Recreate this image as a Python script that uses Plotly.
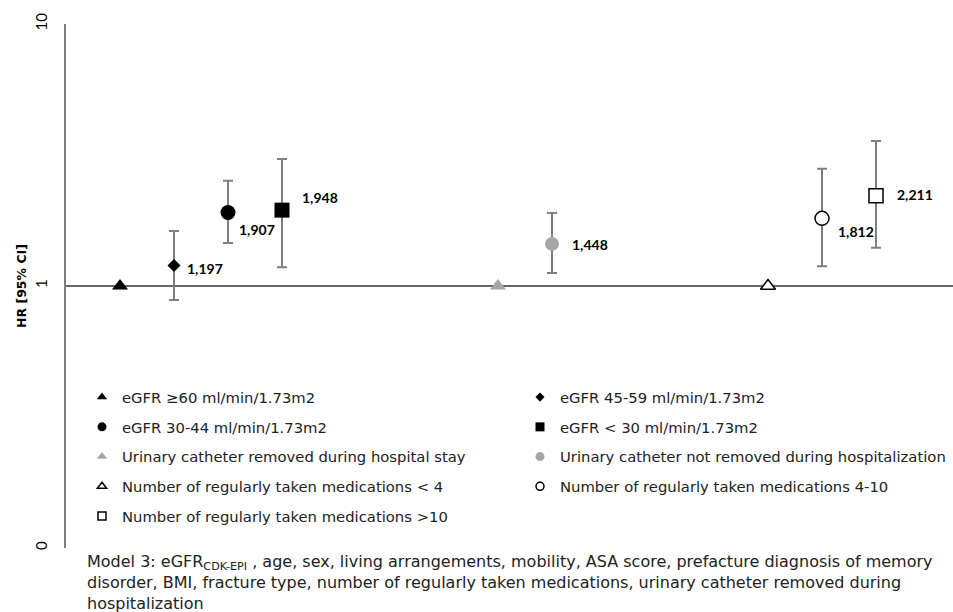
import numpy as np
import plotly.graph_objects as go

# ---- data ----
names = [
    "eGFR ≥60 ml/min/1.73m2",
    "eGFR 45-59 ml/min/1.73m2",
    "eGFR 30-44 ml/min/1.73m2",
    "eGFR < 30 ml/min/1.73m2",
    "Urinary catheter removed during hospital stay",
    "Urinary catheter not removed during hospitalization",
    "Number of regularly taken medications < 4",
    "Number of regularly taken medications 4-10",
    "Number of regularly taken medications >10",
]
slot = [1, 2, 3, 4, 8, 9, 13, 14, 15]
hr = [1.0, 1.197, 1.907, 1.948, 1.0, 1.448, 1.0, 1.812, 2.211]
ci_low = [None, 0.885, 1.46, 1.18, None, 1.12, None, 1.19, 1.40]
ci_high = [None, 1.62, 2.52, 3.05, None, 1.90, None, 2.80, 3.58]
is_reference = [True, False, False, False, True, False, True, False, False]

y_tickvals = [0.1, 1, 10]
y_ticktext = ["0", "1", "10"]
y_title = "HR [95% CI]"
footnote = ("Model 3: eGFR<sub>CDK-EPI</sub> , age, sex, living arrangements, mobility, ASA score, "
            "prefacture diagnosis of memory<br>disorder, BMI, fracture type, number of regularly taken "
            "medications, urinary catheter removed during<br>hospitalization")

# ---- styles ----
symbols = ["triangle-up", "diamond", "circle", "square", "triangle-up", "circle",
           "triangle-up-open", "circle-open", "square-open"]
fills = ["#000000", "#000000", "#000000", "#000000", "#a6a6a6", "#a6a6a6", "white", "white", "white"]
sizes = [14, 10, 15, 15, 14, 14, 13, 14, 14]
legend_sizes = [9, 7, 9, 9, 9, 9, 8, 8, 8]
legend_of = ["legend", "legend2", "legend", "legend2", "legend", "legend2", "legend", "legend2", "legend"]
label_shift = [None, (11, -3), (9, -17), (18, 13), None, (18, -1), None, (14, -13), (19, 1)]

FONT = "Lato, 'Open Sans', sans-serif"
TEXT_FONT = "'DejaVu Sans', Verdana, sans-serif"
fig = go.Figure()

def marker_style(i, size):
    sym = symbols[i].replace("-open", "")
    hollow = fills[i] == "white"
    return dict(symbol=sym, size=size, color=fills[i],
                line=dict(color="#000000" if hollow else fills[i], width=1.5 if hollow else 0))

for i in range(len(names)):
    err = None
    if not is_reference[i]:
        err = dict(type="data", symmetric=False,
                   array=[ci_high[i] - hr[i]], arrayminus=[hr[i] - ci_low[i]],
                   color="#7f7f7f", thickness=2, width=5)
    fig.add_trace(go.Scatter(
        x=[slot[i]], y=[hr[i]], mode="markers", name=names[i], showlegend=False,
        error_y=err, marker=marker_style(i, sizes[i]),
    ))

# legend entries (small symbols, as in the reference)
for i in range(len(names)):
    fig.add_trace(go.Scatter(
        x=[None], y=[None], mode="markers", name=names[i],
        legend=legend_of[i], legendgroup=f"g{i}", showlegend=True,
        marker=marker_style(i, legend_sizes[i]),
    ))

# horizontal reference line at HR = 1
fig.add_shape(type="line", xref="paper", x0=0, x1=1, yref="y", y0=1, y1=1,
              line=dict(color="#666666", width=2), layer="below")

# value labels
for i in range(len(names)):
    if label_shift[i] is None:
        continue
    fig.add_annotation(x=slot[i], y=np.log10(hr[i]), text=f"{hr[i]:.3f}".replace(".", ","),
                       showarrow=False, xanchor="left", yanchor="middle",
                       xshift=label_shift[i][0], yshift=label_shift[i][1],
                       font=dict(family=FONT, size=14, color="#000000", weight="bold"))

# y title
fig.add_annotation(xref="paper", yref="y", x=-45 / 887, y=0, xanchor="center", yanchor="middle",
                   text=f"<b>{y_title}</b>", textangle=-90, showarrow=False,
                   font=dict(family=TEXT_FONT, size=12.5, color="#000000"))

# footnote
fig.add_annotation(xref="paper", yref="paper", x=19 / 887, y=-2 / 524, xanchor="left", yanchor="top",
                   align="left", text=footnote, showarrow=False,
                   font=dict(family=TEXT_FONT, size=16, color="#222222"))

legend_common = dict(orientation="v", yanchor="top", xanchor="left", bgcolor="rgba(0,0,0,0)",
                     tracegroupgap=7.5, font=dict(family=TEXT_FONT, size=14.8, color="#222222"),
                     itemclick=False)

fig.update_layout(
    width=953, height=612,
    margin=dict(l=66, r=0, t=24, b=64),
    paper_bgcolor="white", plot_bgcolor="white",
    showlegend=True,
    legend=dict(x=16 / 887, y=(548 - 381) / 524, **legend_common),
    legend2=dict(x=454 / 887, y=(548 - 381) / 524, **legend_common),
    xaxis=dict(range=[0, 887 / 54], visible=False),
    yaxis=dict(type="log", range=[-1, 1], tickvals=y_tickvals, ticktext=y_ticktext,
               tickangle=-90, showgrid=False, zeroline=False, ticks="",
               showline=True, linecolor="#7f7f7f", linewidth=2,
               ticklabelstandoff=11,
               tickfont=dict(family=FONT, size=15, color="#000000")),
)

fig.write_html("out.html")
